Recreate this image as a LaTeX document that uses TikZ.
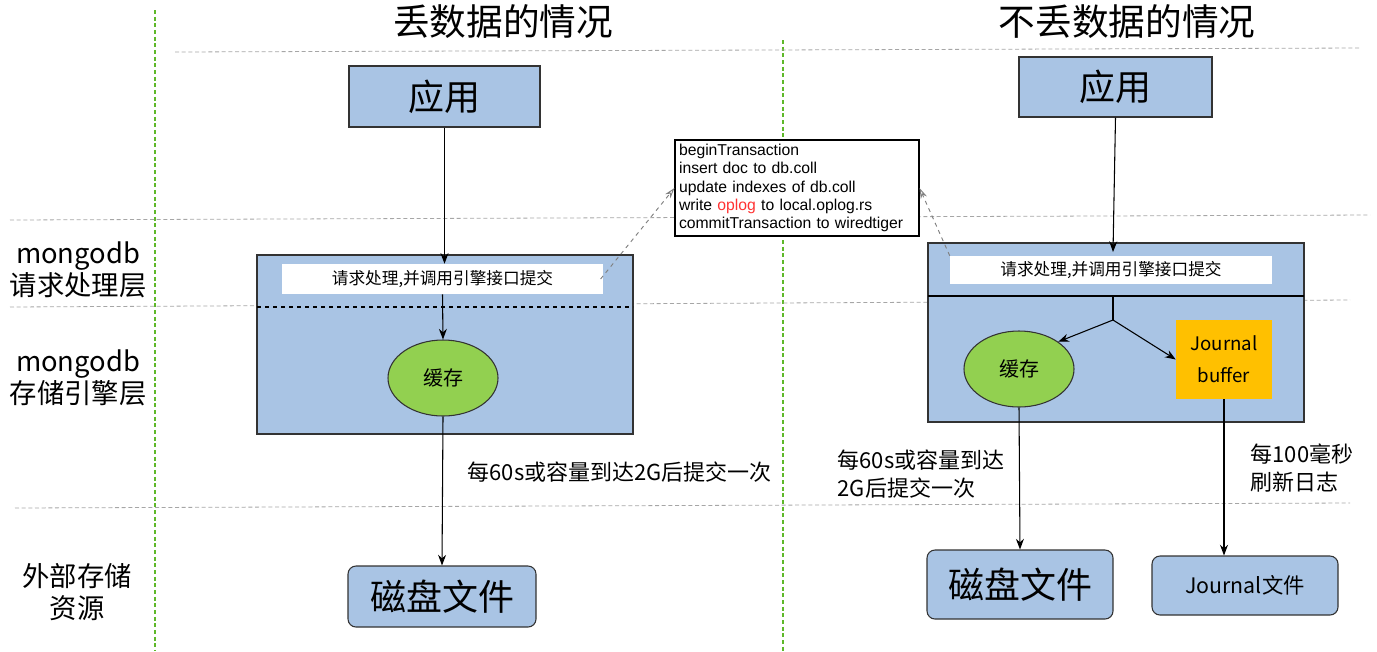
\documentclass[tikz,border=0pt]{standalone}
\usepackage{fontspec}
\setmainfont{Noto Sans CJK SC}
\newfontfamily\codefont{Liberation Sans}
\usetikzlibrary{arrows.meta,shapes.geometric}
\definecolor{boxblue}{HTML}{A9C4E4}
\definecolor{egreen}{HTML}{92D050}
\definecolor{jorange}{HTML}{FFC000}
\definecolor{gline}{HTML}{5FB82A}
\tikzset{
 bluebox/.style={draw=black!80,fill=boxblue,line width=0.8pt},
 arr/.style={-{Stealth[length=8pt,width=6pt]},line width=0.8pt},
 grid/.style={draw=gray!70,dash pattern=on 3pt off 2pt,line width=0.6pt},
 vgrid/.style={draw=gline,dash pattern=on 3pt off 2pt,line width=0.8pt},
 lbl/.style={font=\fontsize{20.5}{24}\selectfont,align=center},
 sml/.style={font=\fontsize{16.5}{21}\selectfont,align=left},
}
\begin{document}
\begin{tikzpicture}[x=0.75pt,y=-0.75pt]
\useasboundingbox (0,0) rectangle (1377,651);
% grid
\draw[vgrid] (155,10) -- (155,651);
\draw[vgrid] (783,40) -- (783,651);
\draw[grid] (175,52) -- (1360,48);
\draw[grid] (10,220) -- (1370,215);
\draw[grid] (10,307) -- (1350,300);
\draw[grid] (15,508) -- (1350,503);
% titles
\node[font=\fontsize{27.5}{30}\selectfont] (t1) at (503,22) {丢数据的情况};
\node[font=\fontsize{27.5}{30}\selectfont] (t2) at (1127,22) {不丢数据的情况};
\node[lbl] (l1) at (78,270) {mongodb\\请求处理层};
\node[lbl] (l2) at (78,378) {mongodb\\存储引擎层};
\node[lbl] (l3) at (77,592) {外部存储\\资源};
% left
\node[bluebox,minimum width=191*0.75pt,minimum height=61*0.75pt,font=\fontsize{27}{30}\selectfont] (appL) at (444.5,96.5) {应用};
\draw[bluebox] (257,255) rectangle (633,434);
\draw[dashed,line width=0.8pt,black] (257,307) -- (633,307);
\node[fill=white,minimum width=321*0.75pt,minimum height=30*0.75pt,font=\fontsize{12.5}{15}\selectfont] (reqL) at (442.5,279) {请求处理,并调用引擎接口提交};
\node[ellipse,draw=black!80,fill=egreen,line width=0.8pt,minimum width=110*0.75pt,minimum height=76*0.75pt,font=\fontsize{15}{18}\selectfont] (cacheL) at (443,378) {缓存};
\node[bluebox,rounded corners=6pt,minimum width=188*0.75pt,minimum height=61*0.75pt,font=\fontsize{27}{30}\selectfont] (diskL) at (442,596.5) {磁盘文件};
\draw[arr] (appL.south) -- ([xshift=2*0.75pt]reqL.north);
\draw[arr] (reqL.south) -- (cacheL.north);
\draw[arr] (cacheL.south) -- (diskL.north);
\node[sml,anchor=west] (cmL) at (463,472) {每60s或容量到达2G后提交一次};
% code box
\node[draw=black,line width=0.8pt,fill=white,align=left,inner sep=3pt,font=\codefont\fontsize{11.8}{13.6}\selectfont,text width=236*0.75pt,minimum height=96*0.75pt] (code) at (797,188) {beginTransaction\\insert doc to db.coll\\update indexes of db.coll\\write \textcolor{red!80}{oplog} to local.oplog.rs\\commitTransaction to wiredtiger};
% right
\node[bluebox,minimum width=193*0.75pt,minimum height=60*0.75pt,font=\fontsize{27}{30}\selectfont] (appR) at (1115.5,87) {应用};
\draw[bluebox] (928,243) rectangle (1304,422);
\draw[line width=0.8pt,black] (928,296) -- (1304,296);
\node[fill=white,minimum width=322*0.75pt,minimum height=28*0.75pt,font=\fontsize{12.5}{15}\selectfont] (reqR) at (1111,270) {请求处理,并调用引擎接口提交};
\node[ellipse,draw=black!80,fill=egreen,line width=0.8pt,minimum width=110*0.75pt,minimum height=76*0.75pt,font=\fontsize{15}{18}\selectfont] (cacheR) at (1019,369) {缓存};
\node[fill=jorange,minimum width=96*0.75pt,minimum height=79*0.75pt,align=center,font=\fontsize{14}{24}\selectfont] (jb) at (1224,359.5) {Journal\\buffer};
\node[bluebox,rounded corners=6pt,minimum width=186*0.75pt,minimum height=69*0.75pt,font=\fontsize{27}{30}\selectfont] (diskR) at (1020,584.5) {磁盘文件};
\node[bluebox,rounded corners=6pt,minimum width=186*0.75pt,minimum height=59*0.75pt,font=\fontsize{16}{19}\selectfont] (jf) at (1245,585.5) {Journal文件};
\draw[arr] (appR.south) -- (1113,252);
\coordinate (br) at (1113,320);
\draw[line width=0.8pt] (1113,296) -- (br);
\draw[arr] (br) -- (cacheR.north east);
\draw[arr] (br) -- (jb.west);
\draw[arr] (cacheR.south) -- (diskR.north);
\draw[arr] (jb.south) -- (jb.south |- jf.north);
\node[sml,anchor=west] (cmR) at (833,474) {每60s或容量到达\\2G后提交一次};
\node[sml,anchor=west] (jmR) at (1246,468) {每100毫秒\\刷新日志};
% dashed pointers
\draw[gray,dashed,line width=0.7pt,-{Stealth[length=8pt,width=5pt,open]}] ([xshift=-2pt]reqL.east) -- (code.west);
\draw[gray,dashed,line width=0.7pt,-{Stealth[length=8pt,width=5pt,open]}] (reqR.north west) -- (code.east);
\end{tikzpicture}
\end{document}
